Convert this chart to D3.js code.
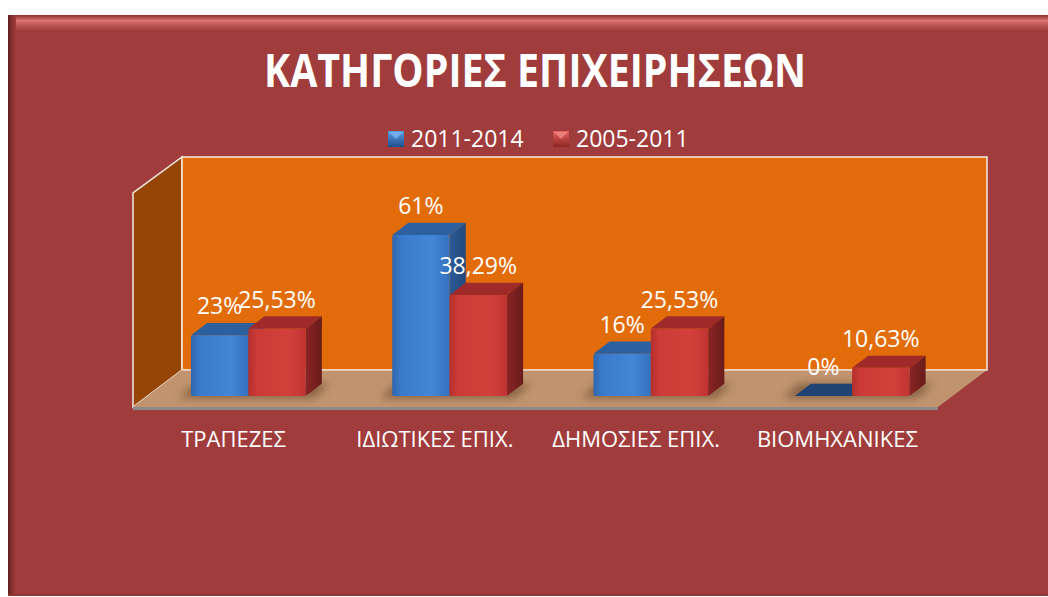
<!DOCTYPE html>
<html>
<head>
<meta charset="utf-8">
<script src="https://cdn.jsdelivr.net/npm/d3@7"></script>
<style>
  body { margin: 0; background: #ffffff; }
  svg { display: block; font-family: "Open Sans", "DejaVu Sans", sans-serif; }
</style>
</head>
<body>
<div id="chart"></div>
<script>
// chart data
var categories = ["ΤΡΑΠΕΖΕΣ", "ΙΔΙΩΤΙΚΕΣ ΕΠΙΧ.", "ΔΗΜΟΣΙΕΣ ΕΠΙΧ.", "ΒΙΟΜΗΧΑΝΙΚΕΣ"];
var seriesNames = ["2011-2014", "2005-2011"];
var values2011_2014 = [23, 61, 16, 0];
var values2005_2011 = [25.53, 38.29, 25.53, 10.63];
var title = "ΚΑΤΗΓΟΡΙΕΣ ΕΠΙΧΕΙΡΗΣΕΩΝ";

var W = 1048, H = 597;

// floor / walls geometry (oblique 3d)
var floorX0 = 133, floorX1 = 938, floorFront = 407;
var depthX = 49, depthY = 37;      // full floor depth vector (back = +x, -y)
var wallTop = 157;
var barStart = 0.3, barDepth = 0.33; // bars sit between 30% and 63% of floor depth

var svg = d3.select("#chart").append("svg")
  .attr("width", W)
  .attr("height", H);

var defs = svg.append("defs");

function linGrad(id, x2, y2, stops) {
  var g = defs.append("linearGradient").attr("id", id)
    .attr("x1", 0).attr("y1", 0).attr("x2", x2).attr("y2", y2);
  stops.forEach(function(s) {
    g.append("stop").attr("offset", s[0]).attr("stop-color", s[1]);
  });
}
linGrad("topBevel", 0, 1, [[0, "#8c3030"], [0.35, "#dc7474"], [0.6, "#c05858"], [1, "#a03c3c"]]);
linGrad("leftBevel", 1, 0, [[0, "#5e1e1e"], [0.5, "#8a3232"], [1, "#a03c3c"]]);
linGrad("blueFront", 1, 0, [[0, "#2f66ad"], [0.15, "#3b7acb"], [0.7, "#4287d6"], [1, "#3470bd"]]);
linGrad("blueSide", 1, 0, [[0, "#2c5a96"], [1, "#22497e"]]);
linGrad("redFront", 1, 0, [[0, "#b52f2d"], [0.15, "#cc3b37"], [0.7, "#d3403c"], [1, "#c13431"]]);
linGrad("redSide", 1, 0, [[0, "#8a2524"], [1, "#6a1b1b"]]);
linGrad("blueIcon", 0, 1, [[0, "#5b9be0"], [1, "#1f4f8f"]]);
linGrad("redIcon", 0, 1, [[0, "#e4605b"], [1, "#8e2624"]]);

defs.append("filter").attr("id", "blur")
  .attr("x", -0.3).attr("y", -0.5).attr("width", 1.6).attr("height", 2)
  .append("feGaussianBlur").attr("stdDeviation", 4);

// frame
svg.append("rect")
  .attr("x", 8).attr("y", 15).attr("width", W).attr("height", 581)
  .attr("fill", "#a03c3c");
svg.append("rect")
  .attr("x", 8).attr("y", 15).attr("width", W).attr("height", 16)
  .attr("fill", "url(#topBevel)");
svg.append("rect")
  .attr("x", 8).attr("y", 15).attr("width", 8).attr("height", 581)
  .attr("fill", "url(#leftBevel)");
svg.append("rect")
  .attr("x", 8).attr("y", 594).attr("width", W).attr("height", 2)
  .attr("fill", "#8c3434");

// title
svg.append("text")
  .attr("x", 535).attr("y", 87)
  .attr("text-anchor", "middle")
  .attr("textLength", 542)
  .attr("lengthAdjust", "spacingAndGlyphs")
  .style("font-size", "46px")
  .style("font-weight", "bold")
  .style("fill", "#ffffff")
  .text(title);

// legend
var legendX = [388, 553];
var legend = svg.append("g").selectAll("g")
  .data(seriesNames)
  .enter().append("g")
  .attr("transform", function(d, i) { return "translate(" + legendX[i] + ",131)"; });
legend.append("rect")
  .attr("width", 16).attr("height", 16)
  .attr("fill", function(d, i) { return i === 0 ? "url(#blueIcon)" : "url(#redIcon)"; });
legend.append("path")
  .attr("d", "M1,1L15,1L8,8Z")
  .attr("fill", function(d, i) { return i === 0 ? "#7ab4f0" : "#f08a84"; })
  .attr("opacity", 0.8);
legend.append("text")
  .attr("x", 23).attr("y", 16)
  .style("font-size", "23px")
  .style("fill", "#ffffff")
  .text(function(d) { return d; });

// scales
var x0 = d3.scaleBand()
  .domain(categories)
  .range([floorX0, floorX1])
  .paddingInner(0.43)
  .paddingOuter(0.215);
var x1 = d3.scaleBand()
  .domain(seriesNames)
  .range([0, x0.bandwidth()]);
var y = d3.scaleLinear()
  .domain([0, 80])
  .range([0, 211]);

var backY = floorFront - depthY;
var backX0 = floorX0 + depthX, backX1 = floorX1 + depthX;

// left side wall
svg.append("polygon")
  .attr("points", [[backX0, wallTop], [backX0, backY], [floorX0, floorFront], [floorX0, wallTop + depthY - 1]].join(" "))
  .attr("fill", "#954506")
  .attr("stroke", "#f4e8e0").attr("stroke-width", 1.5);

// back wall
svg.append("rect")
  .attr("x", backX0).attr("y", wallTop)
  .attr("width", backX1 - backX0).attr("height", backY - wallTop)
  .attr("fill", "#e36c0a")
  .attr("stroke", "#f8ece4").attr("stroke-width", 1.5);

// floor slab edge
svg.append("polygon")
  .attr("points", [[floorX0, floorFront], [floorX1, floorFront], [floorX1, floorFront + 3], [floorX0, floorFront + 3]].join(" "))
  .attr("fill", "#8f8a8a");
// floor
svg.append("polygon")
  .attr("points", [[backX0, backY], [backX1, backY], [floorX1, floorFront], [floorX0, floorFront]].join(" "))
  .attr("fill", "#c1946f");
svg.append("line")
  .attr("x1", backX0).attr("y1", backY).attr("x2", backX1).attr("y2", backY)
  .attr("stroke", "#f3d9c2").attr("stroke-width", 1.5);

// bar data per group
var rows = categories.map(function(c, i) {
  return { cat: c, vals: [values2011_2014[i], values2005_2011[i]] };
});

var offX = depthX * barStart, offY = depthY * barStart;
var dX = depthX * barDepth, dY = depthY * barDepth;
var baseY = floorFront - offY;

// shadows under the groups
svg.append("g").selectAll("polygon")
  .data(rows)
  .enter().append("polygon")
  .attr("points", function(d) {
    var xl = x0(d.cat) + offX - 12, xr = x0(d.cat) + offX + x0.bandwidth() + dX + 8;
    return [[xl, baseY + 2], [xr - dX, baseY + 2], [xr, baseY - dY], [xl + dX, baseY - dY]].join(" ");
  })
  .attr("fill", "#5a3a22")
  .attr("opacity", 0.55)
  .attr("filter", "url(#blur)");

function fmt(v) {
  return (Number.isInteger(v) ? String(v) : v.toFixed(2).replace(".", ",")) + "%";
}

var groups = svg.append("g").selectAll("g")
  .data(rows)
  .enter().append("g")
  .attr("transform", function(d) { return "translate(" + (x0(d.cat) + offX) + "," + baseY + ")"; });

var bars = groups.selectAll("g.bar")
  .data(function(d) {
    return d.vals.map(function(v, i) { return { key: seriesNames[i], value: v, i: i }; });
  })
  .enter().append("g")
  .attr("class", "bar");

var bw = x1.bandwidth();

// front face
bars.filter(function(d) { return d.value > 0; })
  .append("rect")
  .attr("x", function(d) { return x1(d.key); })
  .attr("y", function(d) { return -y(d.value); })
  .attr("width", bw)
  .attr("height", function(d) { return y(d.value); })
  .attr("rx", 2)
  .attr("fill", function(d) { return d.i === 0 ? "url(#blueFront)" : "url(#redFront)"; });

// top face
bars.append("polygon")
  .attr("points", function(d) {
    var xa = x1(d.key), t = -y(d.value);
    return [[xa, t], [xa + dX, t - dY], [xa + bw + dX, t - dY], [xa + bw, t]].join(" ");
  })
  .attr("fill", function(d) {
    if (d.value === 0) return "#1f4474";
    return d.i === 0 ? "#2d609f" : "#a02a29";
  });

// side face
bars.filter(function(d) { return d.value > 0; })
  .append("polygon")
  .attr("points", function(d) {
    var xr = x1(d.key) + bw, t = -y(d.value);
    return [[xr, t], [xr + dX, t - dY], [xr + dX, -dY], [xr, 0]].join(" ");
  })
  .attr("fill", function(d) { return d.i === 0 ? "url(#blueSide)" : "url(#redSide)"; });

// value labels
bars.append("text")
  .attr("x", function(d) { return x1(d.key) + bw / 2; })
  .attr("y", function(d) { return -y(d.value) - 21; })
  .attr("text-anchor", "middle")
  .style("font-size", "23px")
  .style("fill", "#ffffff")
  .text(function(d) { return fmt(d.value); });

// category axis labels
svg.append("g").selectAll("text")
  .data(categories)
  .enter().append("text")
  .attr("x", function(d) { return x0(d) + x0.bandwidth() / 2; })
  .attr("y", 447)
  .attr("text-anchor", "middle")
  .style("font-size", "22px")
  .style("fill", "#ffffff")
  .text(function(d) { return d; });
</script>
</body>
</html>
